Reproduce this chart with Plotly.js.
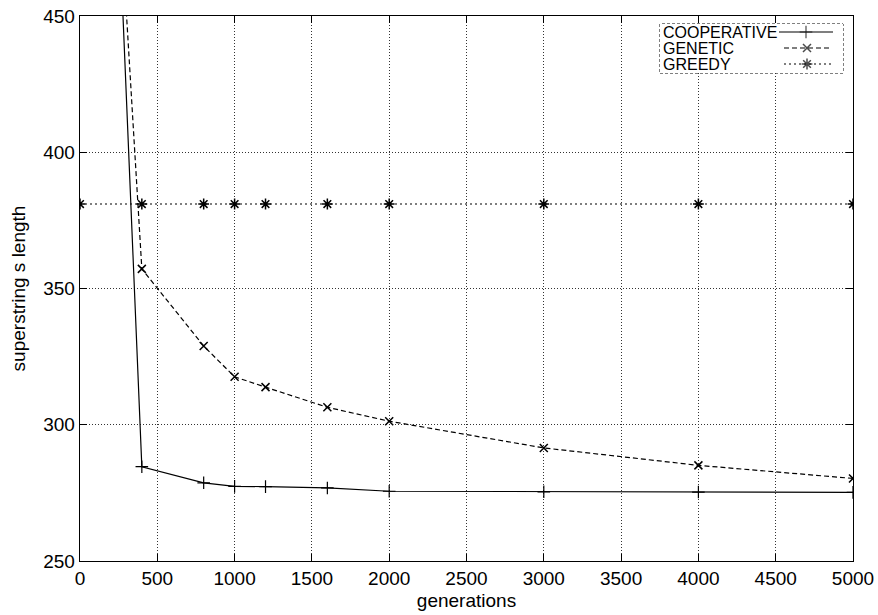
<!DOCTYPE html>
<html>
<head>
<meta charset="utf-8">
<script src="https://cdn.plot.ly/plotly-3.0.1.min.js"></script>
<style>html,body{margin:0;padding:0;background:#fff}#chart{width:878px;height:615px}</style>
</head>
<body>
<div id="chart"></div>
<script>
// ---- data ----
const seriesNames = ["COOPERATIVE", "GENETIC", "GREEDY"];
const coopX = [0, 400, 800, 1000, 1200, 1600, 2000, 3000, 4000, 5000];
const coopY = [827, 284.6, 278.7, 277.4, 277.3, 276.8, 275.6, 275.4, 275.3, 275.2];
const genX  = [0, 400, 800, 1000, 1200, 1600, 2000, 3000, 4000, 5000];
const genY  = [733, 357.2, 328.9, 317.6, 313.8, 306.4, 301.3, 291.5, 285.1, 280.3];
const greedyX = [0, 400, 800, 1000, 1200, 1600, 2000, 3000, 4000, 5000];
const greedyY = [381, 381, 381, 381, 381, 381, 381, 381, 381, 381];
const xTicks = [0, 500, 1000, 1500, 2000, 2500, 3000, 3500, 4000, 4500, 5000];
const yTicks = [250, 300, 350, 400, 450];

const FONT = "Liberation Sans, Arial, Helvetica, sans-serif";
const styles = [
  {dash: "solid", symbol: "cross-thin", size: 9, mw: 1.2},
  {dash: "5px,3px", symbol: "x-thin", size: 8, mw: 1.5},
  {dash: "2px,3px", symbol: "asterisk", size: 9, mw: 1.5}
];

function tr(x, y, i) {
  return {
    x: x, y: y, type: "scatter", mode: "lines+markers", name: seriesNames[i],
    line: {color: "#000", width: 1.2, dash: styles[i].dash},
    marker: {symbol: styles[i].symbol, size: styles[i].size, color: "#000",
             line: {color: "#000", width: styles[i].mw}},
    showlegend: false, cliponaxis: true
  };
}

const traces = [tr(coopX, coopY, 0), tr(genX, genY, 1), tr(greedyX, greedyY, 2)];

// custom legend (sample keys on the right of the labels), in a pixel-like overlay axis
const legRowY = [32, 48, 64];
const legLineX = [[779, 806, 833], [784, 807, 832], [784, 807, 832]];
const annotations = [];
for (let i = 0; i < 3; i++) {
  traces.push({
    x: legLineX[i], y: [legRowY[i], legRowY[i], legRowY[i]],
    xaxis: "x2", yaxis: "y2", type: "scatter", mode: "lines+markers",
    line: {color: "#000", width: 1.2, dash: styles[i].dash},
    marker: {symbol: styles[i].symbol, size: [0, styles[i].size, 0], color: "#000",
             line: {color: "#000", width: styles[i].mw}},
    showlegend: false, hoverinfo: "skip"
  });
  annotations.push({
    xref: "x2", yref: "y2", x: 661, y: legRowY[i], text: seriesNames[i],
    showarrow: false, xanchor: "left", yanchor: "middle",
    font: {family: FONT, size: 16, color: "#000"}
  });
}

const W = 878, H = 615, L = 80, R = 25, T = 16, B = 54;
const pw = W - L - R, ph = H - T - B;
const px2x = v => (v - L) / pw;
const py2y = v => 1 - (v - T) / ph;

const layout = {
  width: W, height: H,
  margin: {l: L, r: R, t: T, b: B, pad: 0},
  paper_bgcolor: "#fff", plot_bgcolor: "#fff",
  font: {family: FONT, size: 19, color: "#000"},
  showlegend: false,
  xaxis: {
    range: [0, 5000], tickvals: xTicks, ticktext: xTicks.map(String),
    showline: true, linecolor: "#000", linewidth: 1.3, mirror: "ticks",
    ticks: "inside", ticklen: 7, tickcolor: "#000", tickwidth: 1,
    showgrid: true, gridcolor: "#333", griddash: "1px,2px", gridwidth: 1,
    zeroline: false, tickfont: {family: FONT, size: 19, color: "#000"},
    title: {text: "generations", font: {family: FONT, size: 19, color: "#000"}, standoff: 5}
  },
  yaxis: {
    range: [250, 450], tickvals: yTicks, ticktext: yTicks.map(String),
    showline: true, linecolor: "#000", linewidth: 1.3, mirror: "ticks",
    ticks: "inside", ticklen: 7, tickcolor: "#000", tickwidth: 1,
    showgrid: true, gridcolor: "#333", griddash: "1px,2px", gridwidth: 1,
    zeroline: false, tickfont: {family: FONT, size: 19, color: "#000"},
    title: {text: "superstring s length", font: {family: FONT, size: 19, color: "#000"}, standoff: 12}
  },
  xaxis2: {domain: [px2x(660), px2x(843)], range: [660, 843], anchor: "y2",
           visible: false, fixedrange: true},
  yaxis2: {domain: [py2y(73), py2y(24)], range: [73, 24], anchor: "x2",
           visible: false, fixedrange: true},
  shapes: [{
    type: "rect", xref: "paper", yref: "paper",
    x0: px2x(660), x1: px2x(843), y0: py2y(73), y1: py2y(24),
    line: {color: "#000", width: 1, dash: "3px,2px"}, fillcolor: "rgba(255,255,255,1)", layer: "below"
  }],
  annotations: annotations
};

Plotly.newPlot("chart", traces, layout, {displayModeBar: false, staticPlot: true});
</script>
</body>
</html>
